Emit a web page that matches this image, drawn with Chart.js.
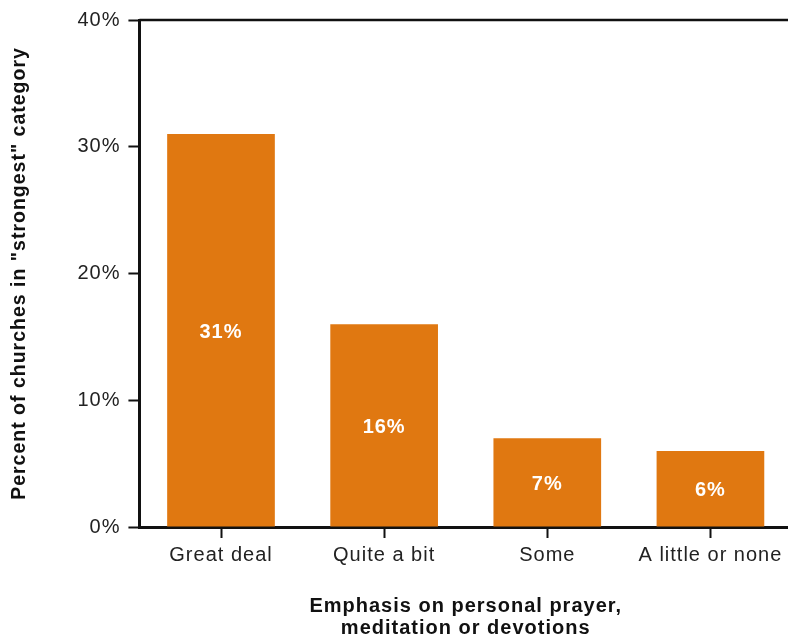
<!DOCTYPE html>
<html>
<head>
<meta charset="utf-8">
<script src="https://cdn.jsdelivr.net/npm/chart.js@4/dist/chart.umd.min.js"></script>
<style>
  html, body { margin: 0; padding: 0; background: #fff; overflow: hidden; }
  #wrap { width: 792px; height: 639px; }
</style>
</head>
<body>
<div id="wrap"><canvas id="chart"></canvas></div>
<script>
// chart data
const categories = ['Great deal', 'Quite a bit', 'Some', 'A little or none'];
const values = [31, 16, 7, 6];
const yTicks = [0, 10, 20, 30, 40];

const barColor = '#E07811';
const ink = '#111';
const font = '"Liberation Sans", Arial, sans-serif';

// the original text is a bit wider spaced than Arial
const spacing = {
  id: 'spacing',
  beforeInit(chart) { chart.ctx.letterSpacing = '1px'; },
  beforeUpdate(chart) { chart.ctx.letterSpacing = '1px'; }
};

// white value labels in the middle of each bar
const barLabels = {
  id: 'barLabels',
  afterDatasetsDraw(chart) {
    const ctx = chart.ctx;
    const meta = chart.getDatasetMeta(0);
    ctx.save();
    ctx.fillStyle = '#fff';
    ctx.font = 'bold 20px ' + font;
    ctx.textAlign = 'center';
    ctx.textBaseline = 'middle';
    meta.data.forEach((bar, i) => {
      const p = bar.getProps(['x', 'y', 'base'], true);
      ctx.fillText(values[i] + '%', p.x, (p.y + p.base) / 2 + 2);
    });
    ctx.restore();
  }
};

// top frame line running to the right edge
const topLine = {
  id: 'topLine',
  afterDraw(chart) {
    const { ctx, chartArea } = chart;
    ctx.save();
    ctx.strokeStyle = ink;
    ctx.lineWidth = 2.5;
    ctx.beginPath();
    ctx.moveTo(chartArea.left, chartArea.top);
    ctx.lineTo(chart.width, chartArea.top);
    ctx.stroke();
    ctx.restore();
  }
};

new Chart(document.getElementById('chart'), {
  type: 'bar',
  data: {
    labels: categories,
    datasets: [{
      data: values,
      backgroundColor: barColor,
      barPercentage: 0.66,
      categoryPercentage: 1
    }]
  },
  options: {
    responsive: true,
    maintainAspectRatio: false,
    animation: false,
    layout: { padding: { top: 8, right: 0, left: 8, bottom: 0 } },
    plugins: {
      legend: { display: false },
      tooltip: { enabled: false }
    },
    scales: {
      x: {
        border: { display: true, color: ink, width: 3 },
        grid: {
          display: true,
          offset: false,
          drawOnChartArea: false,
          tickLength: 11,
          tickColor: ink,
          tickWidth: 2
        },
        ticks: {
          color: '#222',
          font: { family: font, size: 20 },
          padding: 5,
          maxRotation: 0
        },
        title: {
          display: true,
          text: ['Emphasis on personal prayer,', 'meditation or devotions'],
          color: ink,
          font: { family: font, size: 20, weight: 'bold', lineHeight: 1.1 },
          padding: { top: 23, bottom: 0 }
        }
      },
      y: {
        min: 0,
        max: 40,
        afterBuildTicks(axis) {
          axis.ticks = yTicks.map(v => ({ value: v }));
        },
        border: { display: true, color: ink, width: 3 },
        grid: {
          drawOnChartArea: false,
          tickLength: 11,
          tickColor: ink,
          tickWidth: 2
        },
        ticks: {
          color: '#222',
          font: { family: font, size: 20 },
          padding: 8,
          callback: v => v + '%'
        },
        title: {
          display: true,
          text: 'Percent of churches in "strongest" category',
          color: ink,
          font: { family: font, size: 19.5, weight: 'bold' },
          padding: { top: 0, bottom: 38 }
        }
      }
    }
  },
  plugins: [spacing, barLabels, topLine]
});
</script>
</body>
</html>
